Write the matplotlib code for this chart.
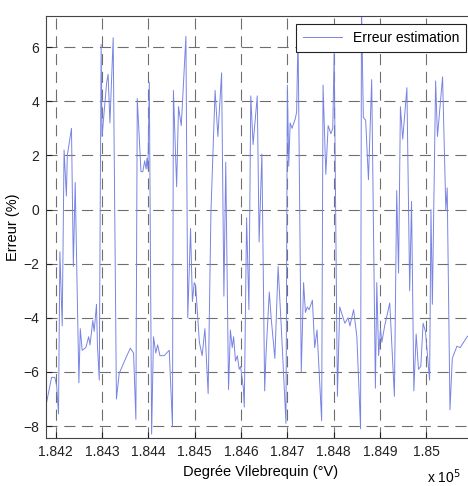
import matplotlib
matplotlib.use('Agg')
import matplotlib.pyplot as plt
from matplotlib.ticker import FuncFormatter

# ===================== données =====================
# degré vilebrequin (°V)
deg = [184180, 184191, 184198, 184202, 184206, 184209, 184214, 184218, 184223, 184225,
       184234, 184238, 184242, 184250, 184253, 184257, 184265, 184271, 184274, 184280,
       184283, 184288, 184290, 184294, 184298, 184300, 184303, 184310, 184313, 184317,
       184324, 184331, 184337, 184351, 184361, 184368, 184373, 184376, 184384, 184388,
       184392, 184395, 184397, 184399, 184402, 184407, 184411, 184416, 184420, 184425,
       184434, 184445, 184452, 184454, 184461, 184465, 184471, 184481, 184485, 184491,
       184495, 184499, 184502, 184510, 184516, 184522, 184529, 184535, 184544, 184550,
       184558, 184563, 184567, 184573, 184577, 184581, 184584, 184588, 184592, 184596,
       184599, 184605, 184607, 184612, 184617, 184621, 184626, 184635, 184639, 184645,
       184651, 184654, 184661, 184665, 184673, 184680, 184687, 184697, 184700, 184703,
       184706, 184710, 184717, 184720, 184723, 184730, 184735, 184739, 184743, 184747,
       184754, 184759, 184764, 184774, 184777, 184783, 184788, 184794, 184798, 184801,
       184808, 184813, 184824, 184831, 184835, 184843, 184850, 184858, 184860, 184864,
       184869, 184875, 184882, 184890, 184893, 184897, 184901, 184904, 184910, 184921,
       184931, 184936, 184940, 184944, 184949, 184958, 184964, 184968, 184973, 184978,
       184983, 184988, 184993, 184998, 185007, 185010, 185013, 185020, 185024, 185035,
       185042, 185045, 185051, 185056, 185066, 185073, 185088, 185095]

# erreur d'estimation (%)
err = [-7.15, -6.2, -6.2, -6.5, -7.55, -1.56, -4.3, 2.2, 0.5, 2.0,
       3.0, -2.1, 1.0, -6.4, -4.4, -5.2, -5.1, -4.7, -5.0, -4.1,
       -4.5, -3.5, -5.0, -6.3, 6.1, 2.7, 3.3, 4.7, 5.0, 3.2,
       6.35, -7.0, -6.05, -5.5, -5.12, -5.3, -7.75, 4.1, 1.4, 1.4,
       1.8, 1.5, 1.9, 1.5, 4.7, -8.3, -4.7, -5.3, -5.0, -5.4,
       -5.4, -5.2, -8.0, 4.4, 0.84, 3.8, 3.1, 6.4, -4.0, -0.7,
       -3.4, -2.7, -2.8, -4.9, -5.4, -4.4, -6.8, -0.1, 4.4, 2.7,
       5.05, -3.2, 1.75, -6.65, -4.45, -5.1, -4.7, -5.6, -5.4, -5.9,
       -5.8, -6.6, -7.3, -0.3, -3.7, 4.2, 2.4, 4.2, -1.2, 2.05,
       -6.7, -5.3, -3.05, -4.0, -5.5, -2.1, -4.4, -7.9, 4.6, 1.6,
       3.2, 3.0, 3.35, 3.6, 6.5, -6.0, -2.7, -3.8, -3.6, -3.7,
       -3.35, -5.1, -4.45, -7.8, 4.6, 1.3, 3.1, 2.8, 3.0, 5.8,
       -6.9, -3.6, -4.2, -4.0, -4.3, -3.7, -4.7, -8.1, 7.5, 3.4,
       3.3, 1.1, 4.8, -6.6, -2.7, -5.4, -4.4, -4.9, -4.3, -3.45,
       -6.9, 0.7, -2.35, 3.8, 2.6, 4.5, -3.0, 0.3, -6.7, -4.6,
       -5.9, -5.8, -4.2, -4.5, -6.3, 0.0, -3.5, 4.75, 2.7, 4.9,
       0.0, 0.8, -7.4, -5.5, -5.05, -5.1, -4.7, -4.6]

xticks = [184200, 184300, 184400, 184500, 184600, 184700, 184800, 184900, 185000]
yticks = [-8, -6, -4, -2, 0, 2, 4, 6]

# ===================== style =====================
plt.rcParams['font.family'] = ['Liberation Sans', 'DejaVu Sans']

fig = plt.figure(figsize=(4.68, 4.86), dpi=100)
# l'axe dépasse à droite : la figure d'origine est rognée
ax = fig.add_axes([46 / 468, 48 / 486, 429 / 468, 422 / 486])

ax.plot(deg, err, color='#7884e2', linewidth=0.7, label='Erreur estimation')

ax.set_xlim(184179, 185105)
ax.set_ylim(-8.44, 7.15)
ax.set_xticks(xticks)
ax.set_yticks(yticks)
ax.xaxis.set_major_formatter(FuncFormatter(lambda v, p: f'{v / 1e5:g}'))

ax.grid(True, color='#6e6e6e', linestyle=(0, (10, 6)), linewidth=0.8)
ax.tick_params(direction='in', length=4, labelsize=10, pad=5, colors='#222222')
for s in ax.spines.values():
    s.set_color('#444444')
    s.set_linewidth(0.8)

ax.set_xlabel('Degrée Vilebrequin (°V)', fontsize=10.5, labelpad=4)
ax.set_ylabel('Erreur (%)', fontsize=10.5, labelpad=2)
fig.text(461 / 468, 1 - 477 / 486, 'x 10$^5$', fontsize=10, va='center', ha='right')

leg = ax.legend(loc='upper right', bbox_to_anchor=(466 / 468, 1 - 24 / 486),
                bbox_transform=fig.transFigure, fancybox=False, framealpha=1,
                edgecolor='#222222', fontsize=10, handlelength=2.8,
                borderpad=0.5, borderaxespad=0)
leg.get_frame().set_linewidth(0.8)

plt.savefig('out.png', dpi=100)
